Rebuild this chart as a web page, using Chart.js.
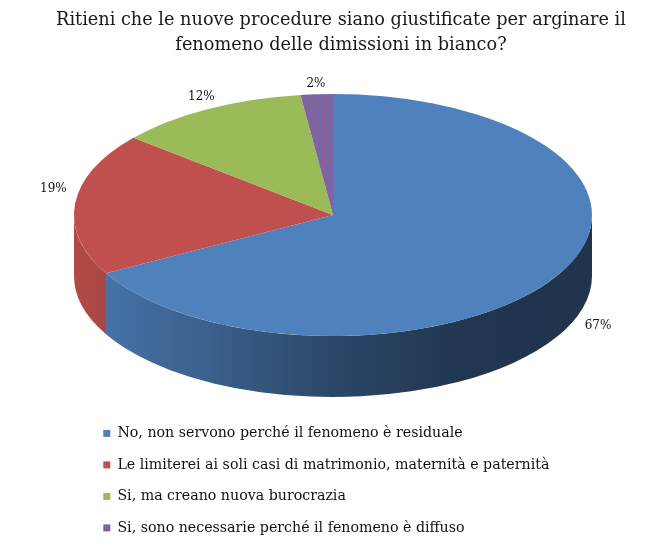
<!DOCTYPE html>
<html>
<head>
<meta charset="utf-8">
<script src="https://cdn.jsdelivr.net/npm/chart.js@4"></script>
<style>
  html, body { margin: 0; padding: 0; background: #fff; }
  #wrap { width: 650px; height: 546px; position: relative; }
</style>
</head>
<body>
<div id="wrap"><canvas id="c"></canvas></div>
<script>
const categories = [
  "No, non servono perché il fenomeno è residuale",
  "Le limiterei ai soli casi di matrimonio, maternità e paternità",
  "Si, ma creano nuova burocrazia",
  "Si, sono necessarie perché il fenomeno è diffuso"
];
const values = [67, 19, 12, 2];
const sliceColors = ["#4F81BD", "#C0504D", "#9BBB59", "#8064A2"];
const titleLines = [
  "Ritieni che le nuove procedure siano giustificate per arginare il",
  "fenomeno delle dimissioni in bianco?"
];

const SERIF = "'DejaVu Serif', serif";

function shade(hex, f) {
  const n = parseInt(hex.slice(1), 16);
  const r = Math.round(((n >> 16) & 255) * f);
  const g = Math.round(((n >> 8) & 255) * f);
  const b = Math.round((n & 255) * f);
  return `rgb(${r},${g},${b})`;
}

// widen the title box so the long first line is not squeezed
const wideTitle = {
  id: 'wideTitle',
  afterLayout(chart) {
    const t = chart.titleBlock;
    if (t) { t.left = 20; t.right = 662; }
  }
};

const pie3d = {
  id: 'pie3d',
  beforeDatasetsDraw(chart, args, o) {
    const ctx = chart.ctx;
    const meta = chart.getDatasetMeta(0);
    const arcs = meta.data;
    if (!arcs.length) return;
    const { cx, cy, rx, ry, depth } = o;
    arcs.forEach((arc, i) => {
      const a = Math.max(arc.startAngle, 0);
      const b = Math.min(arc.endAngle, Math.PI);
      if (b <= a) return;
      const col = meta.controller.getDataset().backgroundColor[i];
      const g = ctx.createLinearGradient(cx - rx, 0, cx + rx, 0);
      g.addColorStop(0, shade(col, 0.92));
      g.addColorStop(0.25, shade(col, 0.75));
      g.addColorStop(0.5, shade(col, 0.55));
      g.addColorStop(0.75, shade(col, 0.42));
      g.addColorStop(1, shade(col, 0.40));
      ctx.save();
      ctx.beginPath();
      ctx.ellipse(cx, cy, rx, ry, 0, a, b, false);
      ctx.ellipse(cx, cy + depth, rx, ry, 0, b, a, true);
      ctx.closePath();
      ctx.fillStyle = g;
      ctx.fill();
      ctx.restore();
    });
    const R = arcs[0].outerRadius;
    ctx.save();
    ctx.translate(cx, cy);
    ctx.scale(rx / R, ry / R);
    ctx.translate(-arcs[0].x, -arcs[0].y);
  },
  afterDatasetsDraw(chart, args, o) {
    const ctx = chart.ctx;
    ctx.restore();
    const meta = chart.getDatasetMeta(0);
    const { cx, cy, rx, ry, depth } = o;
    ctx.save();
    ctx.fillStyle = '#111';
    ctx.font = "12px " + SERIF;
    ctx.textAlign = 'center';
    ctx.textBaseline = 'middle';
    meta.data.forEach((arc, i) => {
      const m = (arc.startAngle + arc.endAngle) / 2;
      const c = Math.cos(m), s = Math.sin(m);
      const front = Math.max(s, 0);
      const gx = 12 + 10 * c * c + 58 * front;
      const gy = 10 + 49 * front;
      const x = cx + (rx + gx) * c;
      const y = cy + (ry + gy) * s + depth * front - (s < 0 ? 14 * c * c : 0);
      const v = chart.data.datasets[0].data[i];
      ctx.fillText(v + '%', x, y);
    });
    ctx.restore();
  }
};

new Chart(document.getElementById('c'), {
  type: 'pie',
  data: {
    labels: categories,
    datasets: [{
      data: values,
      backgroundColor: sliceColors,
      borderWidth: 0
    }]
  },
  plugins: [wideTitle, pie3d],
  options: {
    responsive: true,
    maintainAspectRatio: false,
    animation: false,
    events: [],
    layout: { padding: { left: 86, right: 58, top: 0, bottom: 1 } },
    plugins: {
      tooltip: { enabled: false },
      title: {
        display: true,
        text: titleLines,
        color: '#1a1a1a',
        font: { family: SERIF, size: 17.7, weight: 'normal', lineHeight: 1.41 },
        padding: { top: 8, bottom: 10 }
      },
      legend: {
        display: true,
        position: 'bottom',
        align: 'start',
        labels: {
          boxWidth: 7,
          boxHeight: 7,
          padding: 17.3,
          color: '#111',
          font: { family: SERIF, size: 14.2 }
        }
      },
      pie3d: { cx: 333, cy: 215, rx: 259, ry: 121, depth: 61 }
    }
  }
});
</script>
</body>
</html>
